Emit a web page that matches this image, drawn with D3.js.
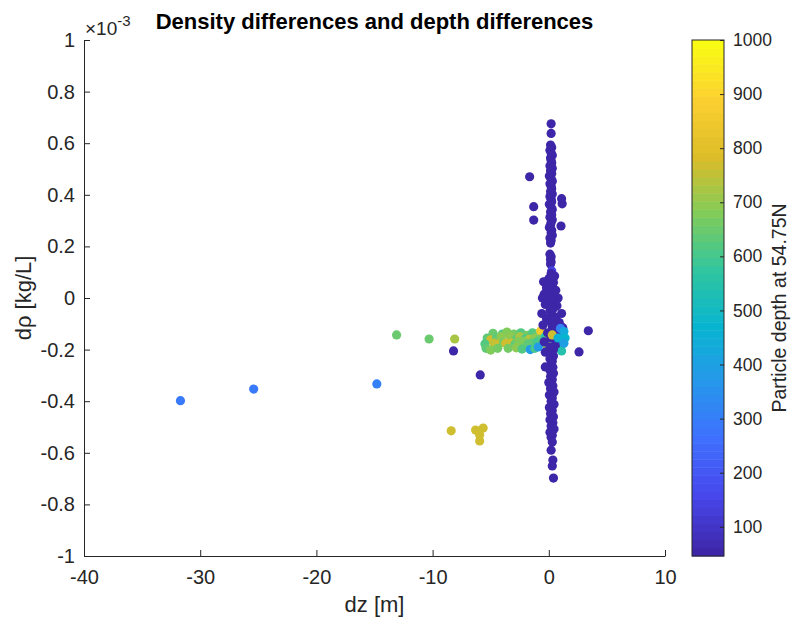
<!DOCTYPE html>
<html><head><meta charset="utf-8">
<script src="https://cdn.jsdelivr.net/npm/d3@7"></script>
<style>
body{margin:0;background:#fff}
text{font-family:"Liberation Sans",Arial,Helvetica,sans-serif;fill:#262626}
</style>
</head><body>
<svg id="c" width="800" height="621"></svg>
<script>
// ---------- tick labels ----------
const xTicks = [-40, -30, -20, -10, 0, 10];
const yTicks = [-1, -0.8, -0.6, -0.4, -0.2, 0, 0.2, 0.4, 0.6, 0.8, 1]; // in 1e-3 kg/L
const cTicks = [100, 200, 300, 400, 500, 600, 700, 800, 900, 1000];

// ---------- data: dz [m], drho [1e-3 kg/L], particle depth [m] ----------
// shallow particles forming the vertical column near dz = 0
const columnDz = [
  0.20,0.20,
  0.15,0.25,0.10,0.20,0.30,0.15,0.20,0.25,0.10,0.30,0.15,0.25,0.05,0.20,0.30,0.10,0.20,0.25,0.15,0.30,0.10,0.20,0.25,0.05,0.20,0.30,0.15,0.25,0.10,0.30,0.20,0.15,0.05,0.25,0.20,0.30,0.10,0.20,0.15,
  0.10,0.20,0.15,0.20,0.15,
  0.25,0.20,0.50,0.00,-0.45,0.40,0.30,-0.20,0.60,0.10,-0.40,0.50,0.00,-0.55,0.80,0.30,0.20,-0.30,0.70,0.40,0.10,-0.60,1.10,0.40,-0.20,0.60,0.90,0.20,-0.50,0.30,1.20,0.50,-0.10,0.90,0.20,-0.40,0.60,0.10,0.40,-0.30,0.20,0.40,0.10,0.30,
  0.20,-0.30,0.35,0.10,0.40,0.15,0.30,0.00,0.35,0.15,0.45,0.05,0.30,0.20,0.45,0.05,0.30,0.15,0.40,0.10,0.35,0.20,0.45,0.10,0.30,0.20,
  0.30,0.20,0.35,0.30,0.40,
  -1.65,-1.30,-1.30,1.10,1.15,1.05,3.40,2.60,-5.90,-8.20];
const columnDrho = [
  0.675,0.638,
  0.593,0.583,0.573,0.563,0.553,0.543,0.533,0.523,0.513,0.503,0.493,0.483,0.473,0.463,0.453,0.443,0.433,0.423,0.413,0.403,0.393,0.383,0.373,0.363,0.353,0.343,0.333,0.323,0.313,0.303,0.293,0.283,0.273,0.263,0.253,0.243,0.233,0.223,0.213,
  0.170,0.160,0.150,0.140,0.132,
  0.105,0.095,0.085,0.075,0.063,0.060,0.050,0.040,0.030,0.025,0.015,0.010,0.005,0.000,0.000,-0.005,-0.015,-0.025,-0.030,-0.040,-0.050,-0.060,-0.060,-0.070,-0.080,-0.080,-0.095,-0.095,-0.105,-0.110,-0.115,-0.125,-0.135,-0.145,-0.155,-0.170,-0.180,-0.190,-0.200,-0.210,-0.215,-0.225,-0.235,-0.245,
  -0.255,-0.267,-0.268,-0.280,-0.292,-0.304,-0.316,-0.328,-0.340,-0.352,-0.364,-0.376,-0.388,-0.400,-0.412,-0.424,-0.436,-0.448,-0.460,-0.472,-0.484,-0.496,-0.508,-0.520,-0.532,-0.540,
  -0.558,-0.590,-0.628,-0.651,-0.698,
  0.470,0.354,0.302,0.385,0.365,0.279,-0.127,-0.209,-0.298,-0.205];
const columnDepth = columnDz.map((d, i) => (i === 46 ? 140 : 60));

// intermediate-depth particles: horizontal band near drho = -0.16e-3 (drawn behind the column)
const clusterDz = [
  -4.8,-4.0,-3.6,-3.0,-2.4,-1.9,-1.4,-0.9,-0.7,
  -5.3,-5.0,-4.5,-4.1,-3.3,-2.8,-2.5,-2.0,-1.7,-1.2,-0.8,-0.3,0.0,
  -5.5,-4.7,-4.3,-3.9,-3.7,-3.2,-2.9,-2.6,-2.2,-1.8,-1.5,-1.0,-0.6,-0.2,0.6,1.1,
  -5.4,-5.0,-4.4,-3.5,-2.8,-2.3,-1.6,-1.2,-0.9,0.6,1.1];
const clusterDrho = [
  -0.137,-0.140,-0.132,-0.140,-0.135,-0.145,-0.135,-0.138,-0.128,
  -0.155,-0.162,-0.155,-0.150,-0.150,-0.160,-0.150,-0.158,-0.160,-0.155,-0.160,-0.150,-0.150,
  -0.178,-0.175,-0.180,-0.172,-0.175,-0.175,-0.178,-0.170,-0.168,-0.178,-0.175,-0.170,-0.172,-0.180,-0.175,-0.182,
  -0.195,-0.202,-0.195,-0.195,-0.193,-0.198,-0.200,-0.195,-0.190,-0.195,-0.205];
const clusterDepth = [
  650,620,680,660,620,660,620,640,860,
  640,765,640,700,700,640,720,600,740,700,650,560,640,
  620,750,770,660,765,770,640,680,680,640,640,600,620,700,520,560,
  640,680,660,660,700,620,380,600,380,500,540];

// band particles that lie on top of the column
const frontDz = [0.3, 0.8, 1.0, 1.3, 1.4, 1.3];
const frontDrho = [-0.143, -0.155, -0.118, -0.130, -0.155, -0.175];
const frontDepth = [770, 450, 300, 430, 470, 400];

// isolated deeper particles
const outlierDz = [-31.7,-25.4,-14.8,-13.1,-10.3,-8.1,-8.4,-6.3,-5.65,-5.95,-5.95];
const outlierDrho = [-0.398,-0.353,-0.333,-0.143,-0.159,-0.159,-0.515,-0.512,-0.504,-0.531,-0.554];
const outlierDepth = [290,290,300,650,650,720,765,765,765,765,765];

// ---------- parula colormap: parula(10) key colours interpolated to 64 levels ----------
const parulaKeys = [[0.2422,0.1504,0.6603],[0.2803,0.2782,0.9221],[0.2440,0.4358,0.9988],[0.1540,0.5902,0.9218],[0.0297,0.7082,0.8163],[0.1938,0.7758,0.6251],[0.5044,0.7993,0.3480],[0.8634,0.7406,0.1596],[0.9892,0.8136,0.1885],[0.9769,0.9839,0.0805]]
  .map(c => d3.rgb(c[0]*255, c[1]*255, c[2]*255));
const parulaInterp = d3.piecewise(d3.interpolateRgb, parulaKeys);
const parula = d3.range(64).map(i => d3.color(parulaInterp(i / 63)).formatHex());

const cMin = 46, cMax = 1000;
const colorIndex = d3.scaleQuantize().domain([cMin, cMax]).range(d3.range(64));
const color = v => parula[colorIndex(Math.max(cMin, Math.min(cMax - 1e-9, v)))];

// ---------- layout ----------
const svg = d3.select("#c");
const X0 = 84, X1 = 665, Y0 = 40, Y1 = 556;
const x = d3.scaleLinear().domain([-40, 10]).range([X0, X1]);
const y = d3.scaleLinear().domain([-1, 1]).range([Y1, Y0]);
const axisCol = "#262626";

// points
const toPts = (dz, dr, dep) => dz.map((d, i) => ({dz: d, dr: dr[i], dep: dep[i]}));
const pts = [].concat(
  toPts(outlierDz, outlierDrho, outlierDepth),
  toPts(clusterDz, clusterDrho, clusterDepth),
  toPts(columnDz, columnDrho, columnDepth),
  toPts(frontDz, frontDrho, frontDepth)
);
svg.append("g").selectAll("circle").data(pts).join("circle")
  .attr("cx", d => x(d.dz)).attr("cy", d => y(d.dr)).attr("r", 4.6)
  .attr("fill", d => color(d.dep));

// axes
const fmt = d => String(+(+d).toFixed(1));
const gx = svg.append("g").attr("transform", `translate(0,${Y1})`)
  .call(d3.axisBottom(x).tickValues(xTicks).tickSizeInner(-6).tickSizeOuter(0).tickPadding(14).tickFormat(fmt));
const gy = svg.append("g").attr("transform", `translate(${X0},0)`)
  .call(d3.axisLeft(y).tickValues(yTicks).tickSizeInner(-6).tickSizeOuter(0).tickPadding(9).tickFormat(fmt));
[gx, gy].forEach(g => {
  g.select(".domain").attr("stroke", axisCol);
  g.selectAll(".tick line").attr("stroke", axisCol);
  g.selectAll(".tick text").attr("font-size", 20).attr("fill", axisCol)
    .style("font-family", '"Liberation Sans",Arial,sans-serif');
});

// exponent label
const ex = svg.append("text").attr("x", 85).attr("y", 35).attr("font-size", 19);
ex.append("tspan").text("×10");
ex.append("tspan").text("-3").attr("font-size", 15).attr("dy", -9);

// title and labels
svg.append("text").attr("x", (X0 + X1) / 2).attr("y", 29).attr("text-anchor", "middle")
  .attr("font-size", 22).attr("font-weight", "bold").style("fill", "#000")
  .text("Density differences and depth differences");
svg.append("text").attr("x", (X0 + X1) / 2).attr("y", 612).attr("text-anchor", "middle")
  .attr("font-size", 22).text("dz [m]");
svg.append("text").attr("transform", `translate(31,${(Y0 + Y1) / 2}) rotate(-90)`)
  .attr("text-anchor", "middle").attr("font-size", 22).text("dρ [kg/L]");

// colorbar
const CB0 = 692, CB1 = 724;
const cy = d3.scaleLinear().domain([cMin, cMax]).range([Y1, Y0]);
const bandEdges = d3.range(65).map(i => cMin + (cMax - cMin) * i / 64);
svg.append("g").selectAll("rect").data(d3.range(64)).join("rect")
  .attr("x", CB0).attr("width", CB1 - CB0)
  .attr("y", i => cy(bandEdges[i + 1]))
  .attr("height", i => cy(bandEdges[i]) - cy(bandEdges[i + 1]) + 0.5)
  .attr("fill", i => parula[i]);
svg.append("rect").attr("x", CB0).attr("y", Y0).attr("width", CB1 - CB0).attr("height", Y1 - Y0)
  .attr("fill", "none").attr("stroke", axisCol).attr("stroke-width", 1);
const gc = svg.append("g").attr("transform", `translate(${CB1},0)`)
  .call(d3.axisRight(cy).tickValues(cTicks).tickSizeInner(-4).tickSizeOuter(0).tickPadding(9).tickFormat(d3.format("d")));
gc.select(".domain").remove();
gc.selectAll(".tick line").attr("stroke", axisCol);
gc.selectAll(".tick text").attr("font-size", 17.5).attr("fill", axisCol)
  .style("font-family", '"Liberation Sans",Arial,sans-serif');
svg.append("text").attr("transform", `translate(786,308) rotate(-90)`)
  .attr("text-anchor", "middle").attr("font-size", 19.5).text("Particle depth at 54.75N");
</script>
</body></html>
